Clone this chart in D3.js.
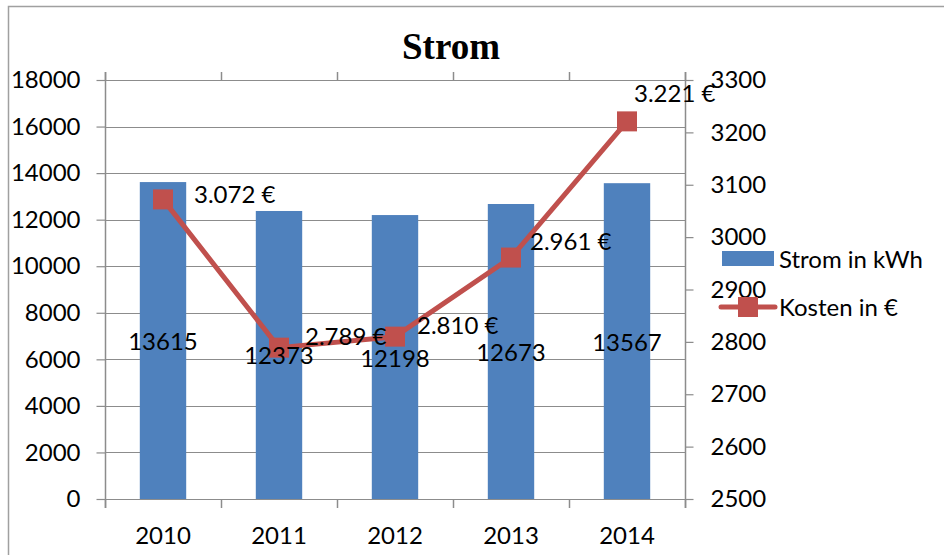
<!DOCTYPE html>
<html>
<head>
<meta charset="utf-8">
<script src="https://cdn.jsdelivr.net/npm/d3@7"></script>
<style>
  body { margin: 0; background: #fff; }
  text { font-family: Lato, "Open Sans", sans-serif; fill: #000; }
  text.title { font-family: "Liberation Serif", "Times New Roman", serif; font-weight: bold; }
</style>
</head>
<body>
<div id="chart"></div>
<script>
// data
const years = ['2010', '2011', '2012', '2013', '2014'];
const strom = [13615, 12373, 12198, 12673, 13567];
const kosten = [3072, 2789, 2810, 2961, 3221];
const leftTicks = [0, 2000, 4000, 6000, 8000, 10000, 12000, 14000, 16000, 18000];
const rightTicks = [2500, 2600, 2700, 2800, 2900, 3000, 3100, 3200, 3300];

const WIDTH = 944;
const HEIGHT = 555;
const plot = { left: 105, right: 685, top: 80, bottom: 499 };
const BLUE = '#4F81BD';
const RED = '#C0504D';
const GRID = '#8c8c8c';
const FONT = 24;

const rows = years.map((y, i) => ({ year: y, strom: strom[i], kosten: kosten[i] }));

const svg = d3.select('#chart').append('svg')
    .attr('width', WIDTH)
    .attr('height', HEIGHT);

// outer frame (only left and top edges visible)
svg.append('path')
    .attr('d', `M8.5,${HEIGHT} L8.5,6.5 L${WIDTH},6.5`)
    .attr('fill', 'none')
    .attr('stroke', '#a0a0a0')
    .attr('stroke-width', 1.5);

const x = d3.scaleBand()
    .domain(years)
    .range([plot.left, plot.right])
    .paddingInner(0.6)
    .paddingOuter(0.3);

const yL = d3.scaleLinear().domain([0, 18000]).range([plot.bottom, plot.top]);
const yR = d3.scaleLinear().domain([2500, 3300]).range([plot.bottom, plot.top]);

// category boundaries for ticks
const bounds = d3.range(years.length + 1).map(i => plot.left + i * x.step());

// gridlines
svg.append('g')
    .selectAll('line')
    .data(leftTicks)
    .enter().append('line')
    .attr('x1', plot.left)
    .attr('x2', plot.right)
    .attr('y1', d => Math.round(yL(d)) + 0.5)
    .attr('y2', d => Math.round(yL(d)) + 0.5)
    .attr('stroke', GRID)
    .attr('stroke-width', 1.2);

// left axis
const leftAxis = svg.append('g')
    .attr('transform', `translate(${plot.left + 0.5},0)`)
    .call(d3.axisLeft(yL).tickValues(leftTicks).tickSize(9).tickPadding(16).tickFormat(d3.format('d')));

// right axis
const rightAxis = svg.append('g')
    .attr('transform', `translate(${plot.right + 0.5},0)`)
    .call(d3.axisRight(yR).tickValues(rightTicks).tickSize(8).tickPadding(17).tickFormat(d3.format('d')));

[leftAxis, rightAxis].forEach(g => {
    g.select('.domain').remove();
    g.selectAll('line').attr('stroke', GRID).attr('stroke-width', 1.2);
    g.selectAll('text').attr('font-size', FONT).attr('font-family', null);
});

// vertical axis lines (run from top ticks to bottom ticks)
svg.append('g')
    .selectAll('line')
    .data([plot.left, plot.right])
    .enter().append('line')
    .attr('x1', d => d + 0.5)
    .attr('x2', d => d + 0.5)
    .attr('y1', plot.top - 8)
    .attr('y2', plot.bottom + 9)
    .attr('stroke', GRID)
    .attr('stroke-width', 1.5);

// category ticks bottom and top
svg.append('g')
    .selectAll('line')
    .data(bounds)
    .enter().append('line')
    .attr('x1', d => Math.round(d) + 0.5)
    .attr('x2', d => Math.round(d) + 0.5)
    .attr('y1', plot.bottom)
    .attr('y2', plot.bottom + 9)
    .attr('stroke', GRID)
    .attr('stroke-width', 1.5);
svg.append('g')
    .selectAll('line')
    .data(bounds)
    .enter().append('line')
    .attr('x1', d => Math.round(d) + 0.5)
    .attr('x2', d => Math.round(d) + 0.5)
    .attr('y1', plot.top - 8)
    .attr('y2', plot.top)
    .attr('stroke', GRID)
    .attr('stroke-width', 1.5);

// category labels
svg.append('g')
    .selectAll('text')
    .data(years)
    .enter().append('text')
    .attr('x', d => x(d) + x.bandwidth() / 2)
    .attr('y', 534)
    .attr('text-anchor', 'middle')
    .attr('dominant-baseline', 'central')
    .attr('font-size', FONT)
    .text(d => d);

// bars
svg.append('g')
    .selectAll('rect')
    .data(rows)
    .enter().append('rect')
    .attr('x', d => x(d.year))
    .attr('width', x.bandwidth())
    .attr('y', d => yL(d.strom))
    .attr('height', d => yL(0) - yL(d.strom))
    .attr('fill', BLUE);

// cost line
const line = d3.line()
    .x(d => x(d.year) + x.bandwidth() / 2)
    .y(d => yR(d.kosten));

svg.append('path')
    .datum(rows)
    .attr('d', line)
    .attr('fill', 'none')
    .attr('stroke', RED)
    .attr('stroke-width', 5)
    .attr('stroke-linejoin', 'round');

const MS = 20;
svg.append('g')
    .selectAll('rect')
    .data(rows)
    .enter().append('rect')
    .attr('x', d => x(d.year) + x.bandwidth() / 2 - MS / 2)
    .attr('y', d => yR(d.kosten) - MS / 2)
    .attr('width', MS)
    .attr('height', MS)
    .attr('fill', RED);

// bar value labels (centered in bar)
svg.append('g')
    .selectAll('text')
    .data(rows)
    .enter().append('text')
    .attr('x', d => x(d.year) + x.bandwidth() / 2)
    .attr('y', d => (yL(d.strom) + yL(0)) / 2)
    .attr('text-anchor', 'middle')
    .attr('dominant-baseline', 'central')
    .attr('font-size', FONT)
    .text(d => d.strom);

// cost labels, nudged like in the original
const nudge = [[31, -6], [26, -12], [22, -12], [19, -17], [7, -29]];
const euro = d => d3.format(',')(d).replace(/,/g, '.') + ' €';
svg.append('g')
    .selectAll('text')
    .data(rows)
    .enter().append('text')
    .attr('x', (d, i) => x(d.year) + x.bandwidth() / 2 + nudge[i][0])
    .attr('y', (d, i) => yR(d.kosten) + nudge[i][1])
    .attr('dominant-baseline', 'central')
    .attr('font-size', FONT)
    .text(d => euro(d.kosten));

// title
svg.append('text')
    .attr('class', 'title')
    .attr('x', 451)
    .attr('y', 59)
    .attr('text-anchor', 'middle')
    .attr('font-size', 37)
    .text('Strom');

// legend
const legend = svg.append('g');
legend.append('rect')
    .attr('x', 722).attr('y', 251)
    .attr('width', 52).attr('height', 15)
    .attr('fill', BLUE);
legend.append('text')
    .attr('x', 779).attr('y', 258)
    .attr('dominant-baseline', 'central')
    .attr('font-size', FONT)
    .text('Strom in kWh');
legend.append('line')
    .attr('x1', 721).attr('x2', 775)
    .attr('y1', 307).attr('y2', 307)
    .attr('stroke', RED)
    .attr('stroke-width', 5)
    .attr('stroke-linecap', 'round');
legend.append('rect')
    .attr('x', 738).attr('y', 297)
    .attr('width', MS).attr('height', MS)
    .attr('fill', RED);
legend.append('text')
    .attr('x', 779).attr('y', 306)
    .attr('dominant-baseline', 'central')
    .attr('font-size', FONT)
    .text('Kosten in €');
</script>
</body>
</html>
